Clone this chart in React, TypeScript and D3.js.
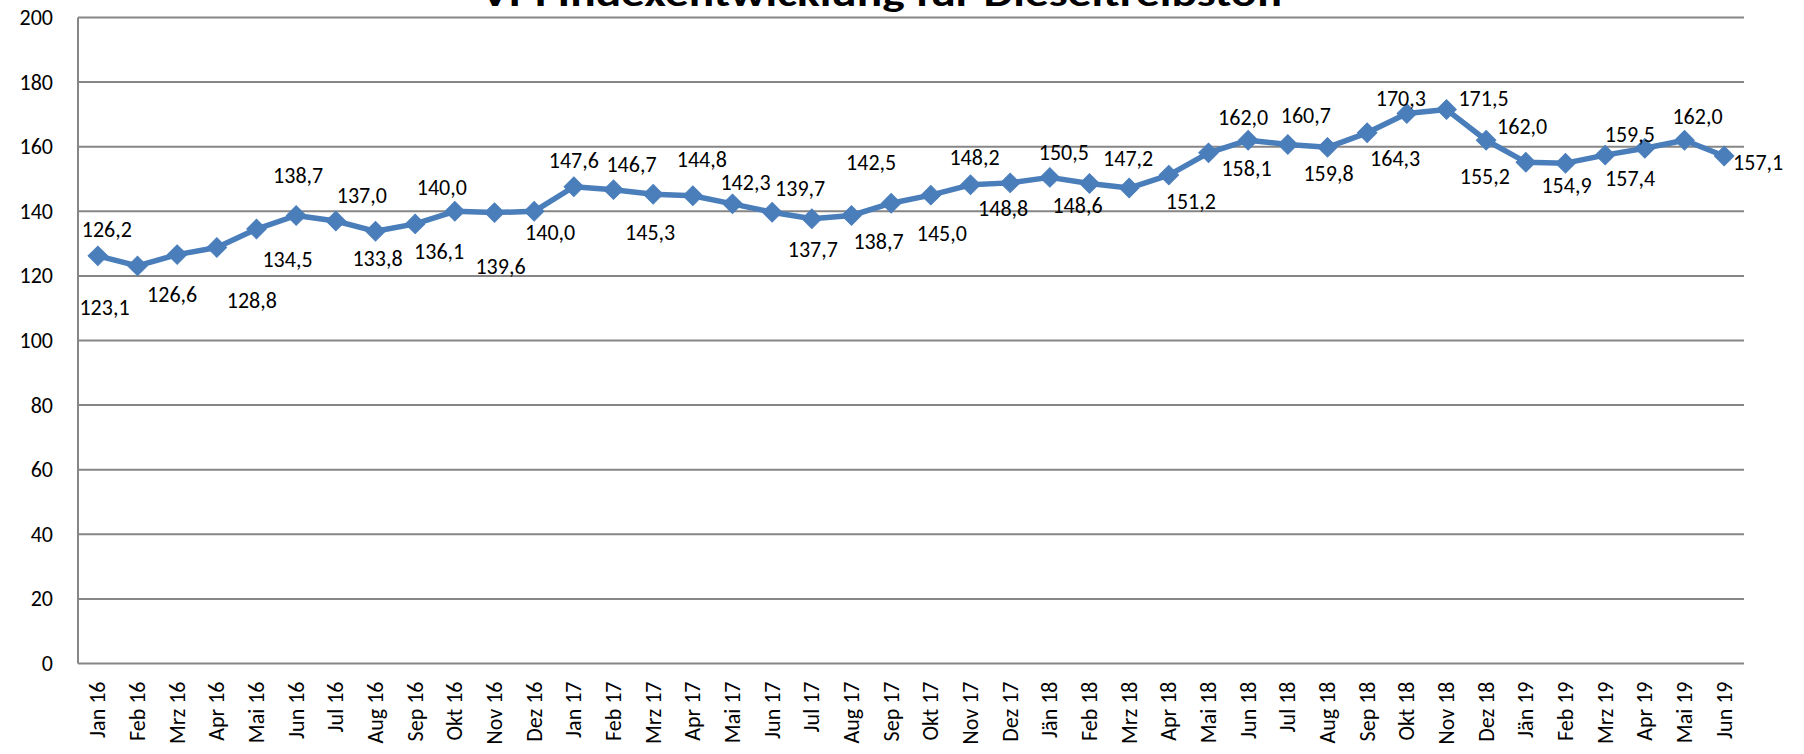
import React from "react";
import * as d3 from "d3";

const title = "VPI Indexentwicklung für Dieseltreibstoff";

const months = [
  "Jan 16", "Feb 16", "Mrz 16", "Apr 16", "Mai 16", "Jun 16", "Jul 16", "Aug 16", "Sep 16", "Okt 16", "Nov 16", "Dez 16",
  "Jan 17", "Feb 17", "Mrz 17", "Apr 17", "Mai 17", "Jun 17", "Jul 17", "Aug 17", "Sep 17", "Okt 17", "Nov 17", "Dez 17",
  "Jän 18", "Feb 18", "Mrz 18", "Apr 18", "Mai 18", "Jun 18", "Jul 18", "Aug 18", "Sep 18", "Okt 18", "Nov 18", "Dez 18",
  "Jän 19", "Feb 19", "Mrz 19", "Apr 19", "Mai 19", "Jun 19",
];

const indexValues = [
  126.2, 123.1, 126.6, 128.8, 134.5, 138.7, 137.0, 133.8, 136.1, 140.0, 139.6, 140.0,
  147.6, 146.7, 145.3, 144.8, 142.3, 139.7, 137.7, 138.7, 142.5, 145.0, 148.2, 148.8,
  150.5, 148.6, 147.2, 151.2, 158.1, 162.0, 160.7, 159.8, 164.3, 170.3, 171.5, 162.0,
  155.2, 154.9, 157.4, 159.5, 162.0, 157.1,
];

const yTicks = [0, 20, 40, 60, 80, 100, 120, 140, 160, 180, 200];

// label placement offsets (layout only), [dx, dy] px from the marker
const labelOffsets: [number, number][] = [
  [9, -26], [-33, 42], [-5, 40], [35, 53], [31, 30], [2, -40], [26, -25], [2, 27], [24, 28], [-13, -24], [6, 54], [16, 21],
  [0, -26], [18, -25], [-3, 38], [9, -36], [13, -21], [28, -24], [1, 31], [27, 26], [-20, -41], [11, 38], [4, -27], [-7, 26],
  [14, -25], [-12, 22], [-1, -30], [22, 26], [38, 16], [-5, -23], [18, -29], [1, 26], [28, 26], [-6, -15], [37, -11], [36, -14],
  [-41, 14], [1, 22], [25, 23], [-15, -14], [13, -24], [34, 6],
];

const W = 1804;
const H = 754;
const left = 78;
const right = 1744;
const top = 17.5;
const bottom = 663.5;
const FONT = "Carlito, Calibri, Lato, sans-serif";
const BLUE = "#4a7ebb";
const GRID = "#868686";

const fmt = (v: number) => v.toFixed(1).replace(".", ",");

export default function App() {
  const x = d3.scaleBand<string>().domain(months).range([left, right]).padding(0);
  const cx = (m: string) => (x(m) as number) + x.bandwidth() / 2;
  const y = d3.scaleLinear().domain([0, 200]).range([bottom, top]);

  const pts = indexValues.map((v, i) => ({ m: months[i], v, i }));
  const line = d3
    .line<{ m: string; v: number }>()
    .x((d) => cx(d.m))
    .y((d) => y(d.v));
  const diamond = d3.symbol().type(d3.symbolSquare).size(190)();

  return (
    <svg
      width={W}
      height={H}
      style={{ position: "absolute", left: 0, top: 0, background: "#fff" }}
      fontFamily={FONT}
    >
      <rect x={0} y={0} width={W} height={H} fill="#fff" />
      {yTicks.map((t) => (
        <g key={t}>
          <line x1={left} x2={right} y1={y(t)} y2={y(t)} stroke={GRID} strokeWidth={2} />
          <text x={53} y={y(t)} textAnchor="end" dominantBaseline="central" fontSize={22} fill="#000">
            {t}
          </text>
        </g>
      ))}
      <line x1={left} x2={left} y1={top} y2={bottom} stroke={GRID} strokeWidth={2} />
      {months.map((m) => (
        <text
          key={m}
          transform={`translate(${cx(m)},${bottom + 18}) rotate(-90)`}
          textAnchor="end"
          dominantBaseline="central"
          fontSize={22}
          fill="#000"
        >
          {m}
        </text>
      ))}
      <path d={line(pts) as string} fill="none" stroke={BLUE} strokeWidth={5.5} strokeLinejoin="round" />
      {pts.map((p) => (
        <path
          key={p.i}
          d={diamond as string}
          transform={`translate(${cx(p.m)},${y(p.v)}) rotate(45)`}
          fill={BLUE}
          stroke={BLUE}
          strokeWidth={1}
        />
      ))}
      {pts.map((p) => (
        <text
          key={"l" + p.i}
          x={cx(p.m) + labelOffsets[p.i][0]}
          y={y(p.v) + labelOffsets[p.i][1]}
          textAnchor="middle"
          dominantBaseline="central"
          fontSize={22}
          fill="#000"
        >
          {fmt(p.v)}
        </text>
      ))}
      <text
        x={883}
        y={6}
        textAnchor="middle"
        fontSize={36}
        fontWeight="bold"
        fill="#000"
        textLength={804}
        lengthAdjust="spacingAndGlyphs"
      >
        {title}
      </text>
    </svg>
  );
}
